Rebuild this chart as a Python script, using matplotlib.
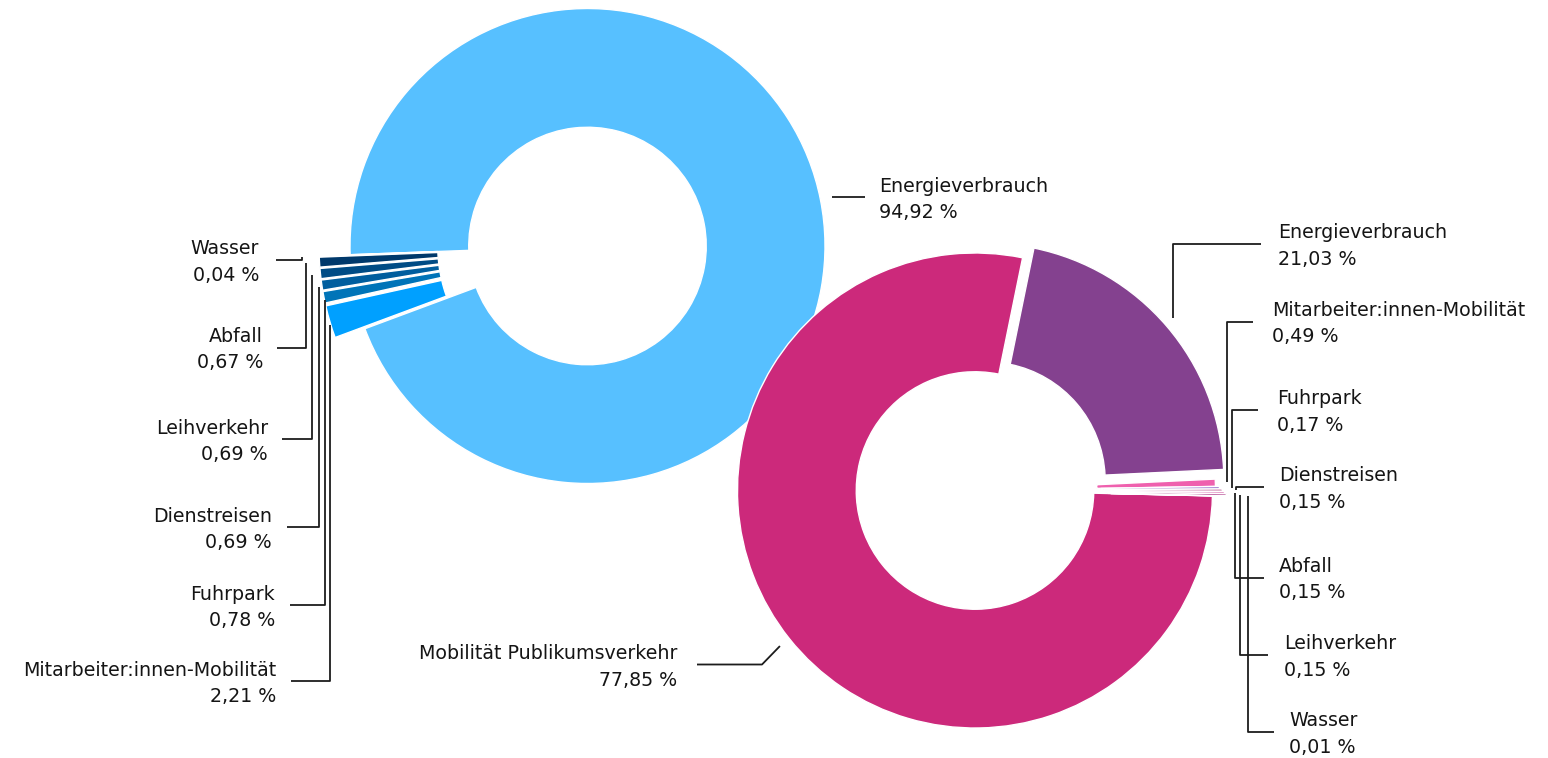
import numpy as np
import matplotlib.pyplot as plt

plt.rcParams['font.family'] = ['DejaVu Sans']

W, H = 1548, 758

# linker Ring
left_names = ['Energieverbrauch', 'Mitarbeiter:innen-Mobilität', 'Fuhrpark',
              'Dienstreisen', 'Leihverkehr', 'Abfall', 'Wasser']
left_values = [94.92, 2.21, 0.78, 0.69, 0.69, 0.67, 0.04]
left_colors = ['#57C0FF', '#00A0FF', '#0074B8', '#005E9E', '#004C85', '#00396B', '#001B3F']
left_explode = [0, 31, 31, 31, 31, 31, 31]

# rechter Ring
right_names = ['Mobilität Publikumsverkehr', 'Energieverbrauch', 'Mitarbeiter:innen-Mobilität',
               'Fuhrpark', 'Dienstreisen', 'Abfall', 'Leihverkehr', 'Wasser']
right_values = [77.85, 21.03, 0.49, 0.17, 0.15, 0.15, 0.15, 0.01]
right_colors = ['#CC297B', '#84418F', '#EF60AE', '#A07AD0', '#A8266E', '#E28CC2', '#B0408C', '#D4267E']
right_explode = [0, 15, 3, 7, 10, 12, 14, 17]

# label layout in pixels: (line_y, line start at text, x of vertical, mode, text x, ha)
left_layout = [
    (195, 865, None, 'h', 879, 'left'),
    (681, 291, 330, 'v', 276, 'right'),
    (605, 290, 324.5, 'v', 275, 'right'),
    (527, 287, 318.5, 'v', 272, 'right'),
    (439, 282, 311.5, 'v', 268, 'right'),
    (347.5, 277, 306, 'v', 263, 'right'),
    (260, 276, 302, 'v', 259, 'right'),
]
right_layout = [
    (664.5, 697, 762, 'd', 677, 'right'),
    (244, 1261, 1172.5, 'v', 1278, 'left'),
    (321.5, 1253, 1226.5, 'v', 1272, 'left'),
    (410, 1258, 1231.5, 'v', 1277, 'left'),
    (486.5, 1264, 1236, 'v', 1279, 'left'),
    (577.5, 1264, 1234.5, 'v', 1279, 'left'),
    (654.5, 1268, 1240, 'v', 1284, 'left'),
    (732, 1274, 1247.5, 'v', 1289, 'left'),
]

R = 237.5
fig = plt.figure(figsize=(W / 100, H / 100), dpi=100)
ax = fig.add_axes([0, 0, 1, 1])


def ring(values, colors, explode, center, start):
    wedges, _ = ax.pie(values, colors=colors, explode=explode, center=center, radius=R,
                       startangle=start, counterclock=True,
                       wedgeprops=dict(width=R * 0.5, edgecolor='white', linewidth=1))
    return wedges


def labels(wedges, names, values, layout, pad=12):
    for w, name, val, (ly, x0, vx, mode, tx, ha) in zip(wedges, names, values, layout):
        tm = np.deg2rad((w.theta1 + w.theta2) / 2)
        ra = w.r + pad
        axx = w.center[0] + ra * np.cos(tm)
        ayy = w.center[1] + ra * np.sin(tm)
        if mode == 'v':
            xs, ys = [x0, vx, vx], [ly, ly, ayy]
        elif mode == 'd':
            xs, ys = [x0, vx, axx], [ly, ly, ayy]
        else:
            ly = ayy
            xs, ys = [axx, x0], [ly, ly]
        ax.plot(xs, ys, color='#1c1c1c', lw=1.3, zorder=3, solid_capstyle='butt')
        pct = f'{val:.2f}'.replace('.', ',') + ' %'
        ax.text(tx, ly - 11, name, ha=ha, va='center', fontsize=13.7, color='#151515')
        ax.text(tx, ly + 15.5, pct, ha=ha, va='center', fontsize=13.7, color='#151515')


lw_ = ring(left_values, left_colors, left_explode, (587.5, 246), 177.9)
rw_ = ring(right_values, right_colors, right_explode, (975, 490.5), 1.3)

ax.set_aspect('auto')
ax.set_xlim(0, W)
ax.set_ylim(H, 0)
ax.axis('off')

labels(lw_, left_names, left_values, left_layout)
labels(rw_, right_names, right_values, right_layout)

fig.savefig('out.png', dpi=100)
